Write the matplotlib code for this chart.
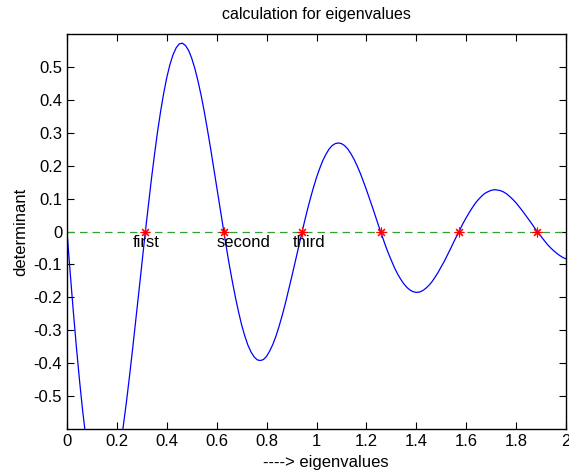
import numpy as np
import matplotlib
matplotlib.use('Agg')
import matplotlib.pyplot as plt

plt.rcParams['font.family'] = ['Liberation Sans', 'DejaVu Sans']

# eigenvalue axis, read every 0.0125
x = np.arange(161) * 0.0125
# determinant
det = [0.000, -0.123, -0.240, -0.350, -0.451, -0.543, -0.623, -0.691, -0.746, -0.788,
       -0.817, -0.832, -0.833, -0.822, -0.798, -0.762, -0.715, -0.659, -0.594, -0.522,
       -0.443, -0.360, -0.274, -0.187, -0.098, -0.011, 0.073, 0.154, 0.230, 0.301,
       0.364, 0.420, 0.468, 0.507, 0.537, 0.558, 0.570, 0.572, 0.565, 0.550,
       0.526, 0.495, 0.457, 0.414, 0.365, 0.311, 0.255, 0.196, 0.136, 0.076,
       0.016, -0.043, -0.099, -0.151, -0.200, -0.244, -0.284, -0.317, -0.345, -0.366,
       -0.381, -0.390, -0.392, -0.389, -0.379, -0.363, -0.343, -0.318, -0.288, -0.255,
       -0.219, -0.180, -0.140, -0.099, -0.057, -0.016, 0.024, 0.063, 0.099, 0.133,
       0.164, 0.191, 0.215, 0.234, 0.250, 0.261, 0.267, 0.269, 0.267, 0.261,
       0.251, 0.237, 0.220, 0.200, 0.178, 0.153, 0.127, 0.100, 0.072, 0.043,
       0.015, -0.013, -0.040, -0.065, -0.088, -0.110, -0.129, -0.145, -0.159, -0.170,
       -0.178, -0.183, -0.185, -0.184, -0.180, -0.173, -0.164, -0.153, -0.139, -0.124,
       -0.107, -0.090, -0.071, -0.052, -0.032, -0.013, 0.006, 0.025, 0.042, 0.058,
       0.073, 0.087, 0.098, 0.108, 0.116, 0.121, 0.125, 0.127, 0.126, 0.124,
       0.120, 0.114, 0.106, 0.097, 0.087, 0.075, 0.063, 0.050, 0.037, 0.024,
       0.010, -0.003, -0.015, -0.027, -0.039, -0.049, -0.058, -0.066, -0.073, -0.079,
       -0.083]

# zero crossings (eigenvalues)
roots = [0.314, 0.628, 0.942, 1.257, 1.571, 1.885]
root_names = ['first', 'second', 'third']
name_x = [0.264, 0.600, 0.905]

fig = plt.figure(figsize=(5.69, 4.74), dpi=100)
ax = fig.add_axes([67/569, 1-429/474, 499/569, 395/474])

ax.plot(x, det, color='blue', lw=0.9)
ax.plot([0, 2], [0, 0], '--', color='#33a033', lw=0.9, dashes=(6, 4))
ax.plot(roots, np.zeros(len(roots)), linestyle='none', marker=(8, 2, 0),
        color='red', ms=7, mew=0.8)

for nm, xx in zip(root_names, name_x):
    ax.text(xx, -0.034, nm, fontsize=12, va='center', ha='left')

ax.set_xlim(0, 2)
ax.set_ylim(-0.6, 0.6)
ax.set_xticks(np.arange(0, 2.01, 0.2))
ax.set_xticklabels(['0', '0.2', '0.4', '0.6', '0.8', '1', '1.2', '1.4', '1.6', '1.8', '2'])
ax.set_yticks([-0.5, -0.4, -0.3, -0.2, -0.1, 0, 0.1, 0.2, 0.3, 0.4, 0.5])
ax.set_yticklabels(['-0.5', '-0.4', '-0.3', '-0.2', '-0.1', '0', '0.1', '0.2', '0.3', '0.4', '0.5'])
ax.tick_params(direction='in', top=True, right=True, labelsize=12, length=5, width=0.8)
for s in ax.spines.values():
    s.set_linewidth(1.0)

ax.set_title('calculation for eigenvalues', fontsize=11.5, pad=11)
ax.set_xlabel('----> eigenvalues', fontsize=12, va='center')
ax.xaxis.set_label_coords(0.519, -0.086)
ax.set_ylabel('determinant', fontsize=12, labelpad=4)

fig.savefig('out.png', dpi=100)
